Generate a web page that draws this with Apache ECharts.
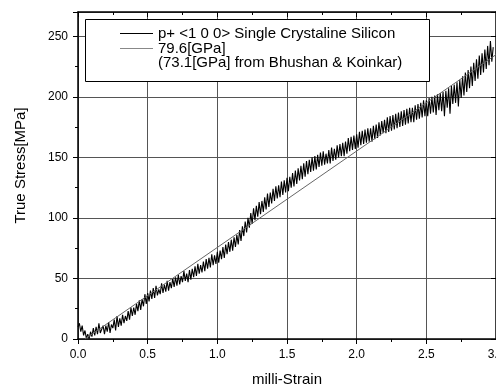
<!DOCTYPE html>
<html>
<head>
<meta charset="utf-8">
<style>
  html, body { margin: 0; padding: 0; background: #fff; }
  #chart { width: 496px; height: 388px; }
</style>
<script src="https://cdn.jsdelivr.net/npm/echarts@6/dist/echarts.min.js"></script>
</head>
<body>
<div id="chart"></div>
<script>
// ---- data ----
const seriesNames = ['p+ <1 0 0> Single Crystaline Silicon', '79.6[GPa]'];
const legendExtraLine = '(73.1[GPa] from Bhushan & Koinkar)';
const xTicks = [0.0, 0.5, 1.0, 1.5, 2.0, 2.5, 3.0];
const yTicks = [0, 50, 100, 150, 200, 250];

const strain = [
  0.00,0.01,0.02,0.03,0.04,0.05,0.06,0.07,0.08,0.09,
  0.10,0.11,0.12,0.13,0.14,0.15,0.16,0.17,0.18,0.19,
  0.20,0.21,0.22,0.23,0.24,0.25,0.26,0.27,0.28,0.29,
  0.30,0.31,0.32,0.33,0.34,0.35,0.36,0.37,0.38,0.39,
  0.40,0.41,0.42,0.43,0.44,0.45,0.46,0.47,0.48,0.49,
  0.50,0.51,0.52,0.53,0.54,0.55,0.56,0.57,0.58,0.59,
  0.60,0.61,0.62,0.63,0.64,0.65,0.66,0.67,0.68,0.69,
  0.70,0.71,0.72,0.73,0.74,0.75,0.76,0.77,0.78,0.79,
  0.80,0.81,0.82,0.83,0.84,0.85,0.86,0.87,0.88,0.89,
  0.90,0.91,0.92,0.93,0.94,0.95,0.96,0.97,0.98,0.99,
  1.00,1.01,1.02,1.03,1.04,1.05,1.06,1.07,1.08,1.09,
  1.10,1.11,1.12,1.13,1.14,1.15,1.16,1.17,1.18,1.19,
  1.20,1.21,1.22,1.23,1.24,1.25,1.26,1.27,1.28,1.29,
  1.30,1.31,1.32,1.33,1.34,1.35,1.36,1.37,1.38,1.39,
  1.40,1.41,1.42,1.43,1.44,1.45,1.46,1.47,1.48,1.49,
  1.50,1.51,1.52,1.53,1.54,1.55,1.56,1.57,1.58,1.59,
  1.60,1.61,1.62,1.63,1.64,1.65,1.66,1.67,1.68,1.69,
  1.70,1.71,1.72,1.73,1.74,1.75,1.76,1.77,1.78,1.79,
  1.80,1.81,1.82,1.83,1.84,1.85,1.86,1.87,1.88,1.89,
  1.90,1.91,1.92,1.93,1.94,1.95,1.96,1.97,1.98,1.99,
  2.00,2.01,2.02,2.03,2.04,2.05,2.06,2.07,2.08,2.09,
  2.10,2.11,2.12,2.13,2.14,2.15,2.16,2.17,2.18,2.19,
  2.20,2.21,2.22,2.23,2.24,2.25,2.26,2.27,2.28,2.29,
  2.30,2.31,2.32,2.33,2.34,2.35,2.36,2.37,2.38,2.39,
  2.40,2.41,2.42,2.43,2.44,2.45,2.46,2.47,2.48,2.49,
  2.50,2.51,2.52,2.53,2.54,2.55,2.56,2.57,2.58,2.59,
  2.60,2.61,2.62,2.63,2.64,2.65,2.66,2.67,2.68,2.69,
  2.70,2.71,2.72,2.73,2.74,2.75,2.76,2.77,2.78,2.79,
  2.80,2.81,2.82,2.83,2.84,2.85,2.86,2.87,2.88,2.89,
  2.90,2.91,2.92,2.93,2.94,2.95,2.96,2.97,2.98
];

const stress = [
  10,13,6,11,3,7,0.5,4,0,6,
  2,9,3,10,4,13,5,6,11,4,
  11,6,14,5,12,9,16,7,19,10,
  17,11,20,13,19,15,23,16,26,19,
  26,20,29,23,32,24,33,27,37,29,
  38,31,40,33,42,34,44,36,41,37,
  46,38,45,39,48,40,47,42,50,43,
  51,44,53,45,52,47,56,48,54,47,
  57,49,58,51,60,52,62,54,61,55,
  64,56,66,58,67,59,70,61,69,62,
  72,63,73,66,76,67,78,70,80,72,
  82,73,84,76,86,78,90,81,93,85,
  97,88,100,92,104,95,108,98,110,101,
  113,103,114,105,117,107,120,109,121,112,
  124,114,126,116,127,117,130,119,131,121,
  133,122,134,125,137,126,139,128,141,131,
  143,132,145,134,147,136,148,138,150,139,
  151,140,152,142,154,143,155,144,153,145,
  156,145,158,147,157,148,160,150,161,151,
  162,151,163,153,166,155,167,156,168,157,
  169,158,171,160,172,161,173,162,174,163,
  174,163,176,165,177,166,179,168,180,170,
  181,170,183,171,184,172,185,173,186,174,
  187,175,188,176,189,177,190,178,191,179,
  191,179,193,181,194,182,195,183,197,184,
  197,184,199,186,200,187,201,185,202,189,
  203,188,204,184,205,191,207,186,209,194,
  210,195,212,192,214,199,217,201,220,204,
  222,207,225,209,228,213,231,215,234,218,
  236,220,239,223,242,226,246,229,241
];

const fitStrain = [0.05, 3.0];
const fitStress = [0, 234.8];

// ---- chart ----
const chart = echarts.init(document.getElementById('chart'), null, { renderer: 'canvas' });
const FONT = 'Liberation Sans, Arial, sans-serif';
const gridColor = '#555';

const measured = strain.map((x, i) => [x, stress[i]]);
const fitted = fitStrain.map((x, i) => [x, fitStress[i]]);

const option = {
  animation: false,
  backgroundColor: '#fff',
  textStyle: { fontFamily: FONT },
  grid: { left: 78, right: 0, top: 12, bottom: 49, containLabel: false, outerBoundsMode: 'none' },
  legend: {
    left: 120, top: 26, orient: 'vertical', padding: 0,
    icon: 'rect', itemWidth: 33, itemHeight: 1, itemGap: 0,
    textStyle: { fontFamily: FONT, fontSize: 15, color: '#000', lineHeight: 15 },
    z: 20,
    data: [
      { name: seriesNames[0], itemStyle: { color: '#000' } },
      { name: seriesNames[1], itemStyle: { color: '#888' } }
    ]
  },
  graphic: [
    { type: 'rect', z: 15, shape: { x: 85.5, y: 19.5, width: 344, height: 62 },
      style: { fill: '#fff', stroke: '#000', lineWidth: 1 } },
    { type: 'text', z: 21, style: { text: legendExtraLine, x: 158, y: 63, verticalAlign: 'middle',
      font: '15px ' + FONT, fill: '#000' } }
  ],
  xAxis: [
    {
      type: 'value', min: xTicks[0], max: xTicks[xTicks.length - 1], interval: 0.5,
      name: 'milli-Strain', nameLocation: 'middle', nameGap: 33,
      nameTextStyle: { fontFamily: FONT, fontSize: 15, color: '#000' },
      axisLine: { show: true, onZero: false, lineStyle: { color: '#000', width: 1.5 } },
      axisTick: { show: true, inside: false, length: 5, lineStyle: { color: '#000' } },
      minorTick: { show: true, splitNumber: 2, length: 3, lineStyle: { color: '#000' } },
      axisLabel: { margin: 10, fontSize: 12, color: '#000', fontFamily: FONT,
        formatter: v => v.toFixed(1) },
      splitLine: { show: true, lineStyle: { color: gridColor, width: 1 } }
    },
    {
      type: 'value', position: 'top', min: xTicks[0], max: xTicks[xTicks.length - 1], interval: 0.5,
      axisLine: { show: true, onZero: false, lineStyle: { color: '#000', width: 1.5 } },
      axisTick: { show: true, inside: true, length: 5, lineStyle: { color: '#000' } },
      minorTick: { show: true, splitNumber: 2, length: 3, lineStyle: { color: '#000' } },
      axisLabel: { show: false }, splitLine: { show: false }
    }
  ],
  yAxis: [
    {
      type: 'value', min: yTicks[0], max: 270, interval: 50,
      name: 'True Stress[MPa]', nameLocation: 'middle', nameGap: 50, nameRotate: 90,
      nameTextStyle: { fontFamily: FONT, fontSize: 15, color: '#000', padding: [0, 0, 0, 20] },
      axisLine: { show: true, onZero: false, lineStyle: { color: '#000', width: 1.5 } },
      axisTick: { show: true, inside: false, length: 5, lineStyle: { color: '#000' } },
      minorTick: { show: true, splitNumber: 2, length: 3, lineStyle: { color: '#000' } },
      axisLabel: { margin: 10, fontSize: 12, color: '#000', fontFamily: FONT, showMaxLabel: false,
        formatter: v => (yTicks.indexOf(v) >= 0 ? String(v) : '') },
      splitLine: { show: true, lineStyle: { color: gridColor, width: 1 } }
    },
    {
      type: 'value', position: 'right', min: yTicks[0], max: 270, interval: 50,
      axisLine: { show: true, onZero: false, lineStyle: { color: '#000', width: 1.5 } },
      axisTick: { show: true, inside: true, length: 5 },
      axisLabel: { show: false }, splitLine: { show: false }
    }
  ],
  series: [
    {
      name: seriesNames[0], type: 'line', data: measured, symbol: 'none', showSymbol: false,
      lineStyle: { color: '#000', width: 1.1 }, itemStyle: { color: '#000' }, z: 3
    },
    {
      name: seriesNames[1], type: 'line', data: fitted, symbol: 'none', showSymbol: false,
      lineStyle: { color: '#666', width: 1 }, itemStyle: { color: '#777' }, z: 4
    }
  ]
};
chart.setOption(option);
</script>
</body>
</html>
